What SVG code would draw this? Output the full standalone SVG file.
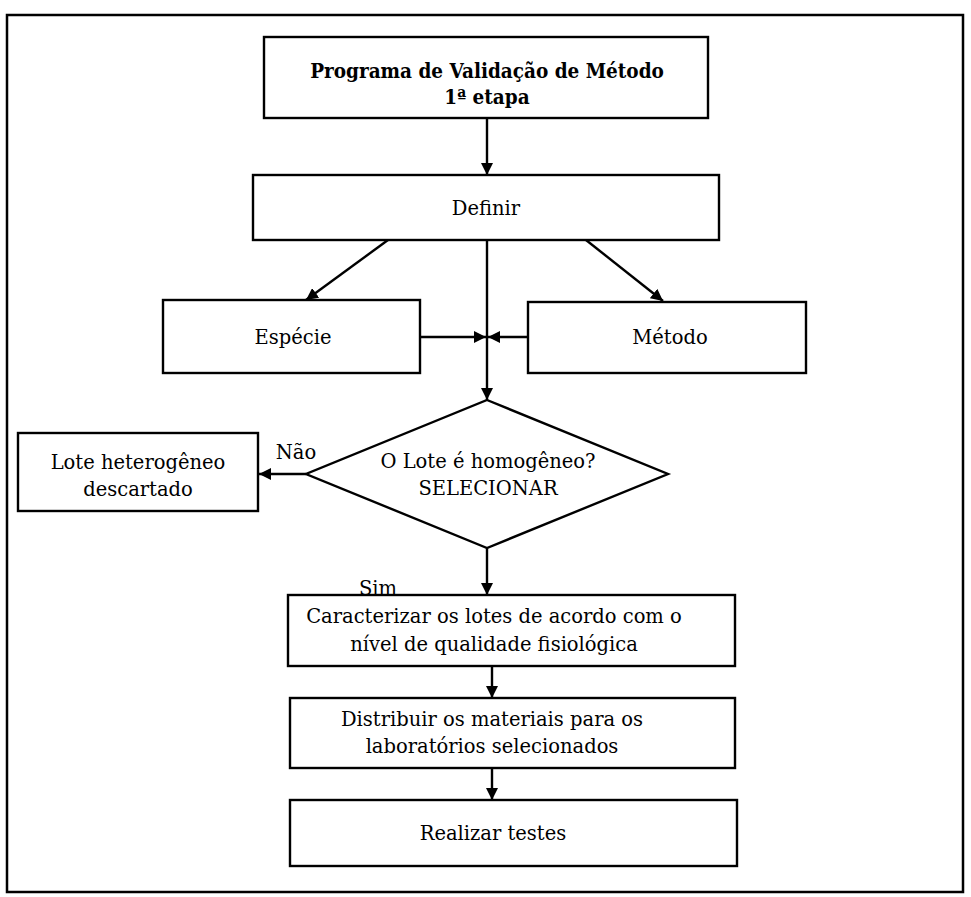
<svg xmlns="http://www.w3.org/2000/svg" width="971" height="897" viewBox="0 0 971 897">
  <style>
    .box { fill: #fff; stroke: #000; stroke-width: 2.4; }
    .frame { fill: none; stroke: #000; stroke-width: 2.5; }
    .lbl { font-family: "DejaVu Serif", "Liberation Serif", serif; font-size: 19.5px; fill: #000; text-anchor: middle; }
    .ttl { font-family: "DejaVu Serif Condensed", "DejaVu Serif", serif; font-weight: bold; font-size: 20.5px; fill: #000; text-anchor: middle; }
    .edge { fill: none; stroke: #000; stroke-width: 2.4; }
  </style>
  <defs>
    <marker id="arr" viewBox="0 0 10 10" refX="10" refY="5" markerWidth="5" markerHeight="5" markerUnits="strokeWidth" orient="auto">
      <path d="M0,0 L10,5 L0,10 z" fill="#000"/>
    </marker>
  </defs>
  <rect width="971" height="897" fill="#fff"/>
  <!-- outer frame -->
  <rect class="frame" x="7" y="15" width="956" height="877"/>

  <g id="n-programa">
    <rect class="box" x="264" y="37" width="444" height="81"/>
    <text class="ttl" x="487" y="78">Programa de Validação de Método</text>
    <text class="ttl" x="487" y="104">1ª etapa</text>
  </g>
  <g id="n-definir">
    <rect class="box" x="253" y="175" width="466" height="65"/>
    <text class="lbl" x="486" y="215">Definir</text>
  </g>
  <g id="n-especie">
    <rect class="box" x="163" y="300" width="257" height="73"/>
    <text class="lbl" x="293" y="344">Espécie</text>
  </g>
  <g id="n-metodo">
    <rect class="box" x="528" y="302" width="278" height="71"/>
    <text class="lbl" x="670" y="344">Método</text>
  </g>
  <g id="n-decisao">
    <polygon class="box" points="487,400 668,474 487,548 306,474"/>
    <text class="lbl" x="488" y="468">O Lote é homogêneo?</text>
    <text class="lbl" x="488" y="495">SELECIONAR</text>
  </g>
  <g id="n-descartado">
    <rect class="box" x="18" y="433" width="240" height="78"/>
    <text class="lbl" x="138" y="469">Lote heterogêneo</text>
    <text class="lbl" x="138" y="496">descartado</text>
  </g>
  <g id="n-caracterizar">
    <rect class="box" x="288" y="595" width="447" height="71"/>
    <text class="lbl" x="494" y="623">Caracterizar os lotes de acordo com o</text>
    <text class="lbl" x="494" y="651">nível de qualidade fisiológica</text>
  </g>
  <g id="n-distribuir">
    <rect class="box" x="290" y="698" width="445" height="70"/>
    <text class="lbl" x="492" y="726">Distribuir os materiais para os</text>
    <text class="lbl" x="492" y="753">laboratórios selecionados</text>
  </g>
  <g id="n-realizar">
    <rect class="box" x="290" y="800" width="447" height="66"/>
    <text class="lbl" x="493" y="840">Realizar testes</text>
  </g>

  <g id="connectors">
    <path class="edge" d="M487,118 L487,175" marker-end="url(#arr)"/>
    <path class="edge" d="M388,240 L306,300" marker-end="url(#arr)"/>
    <path class="edge" d="M586,240 L663,301" marker-end="url(#arr)"/>
    <path class="edge" d="M487,240 L487,400" marker-end="url(#arr)"/>
    <path class="edge" d="M420,337 L486,337" marker-end="url(#arr)"/>
    <path class="edge" d="M528,337 L488,337" marker-end="url(#arr)"/>
    <path class="edge" d="M306,474 L259,474" marker-end="url(#arr)"/>
    <path class="edge" d="M487,548 L487,595" marker-end="url(#arr)"/>
    <path class="edge" d="M492,666 L492,698" marker-end="url(#arr)"/>
    <path class="edge" d="M492,768 L492,800" marker-end="url(#arr)"/>
    <text class="lbl" x="296" y="459">Não</text>
    <text class="lbl" x="378" y="595">Sim</text>
  </g>
</svg>
